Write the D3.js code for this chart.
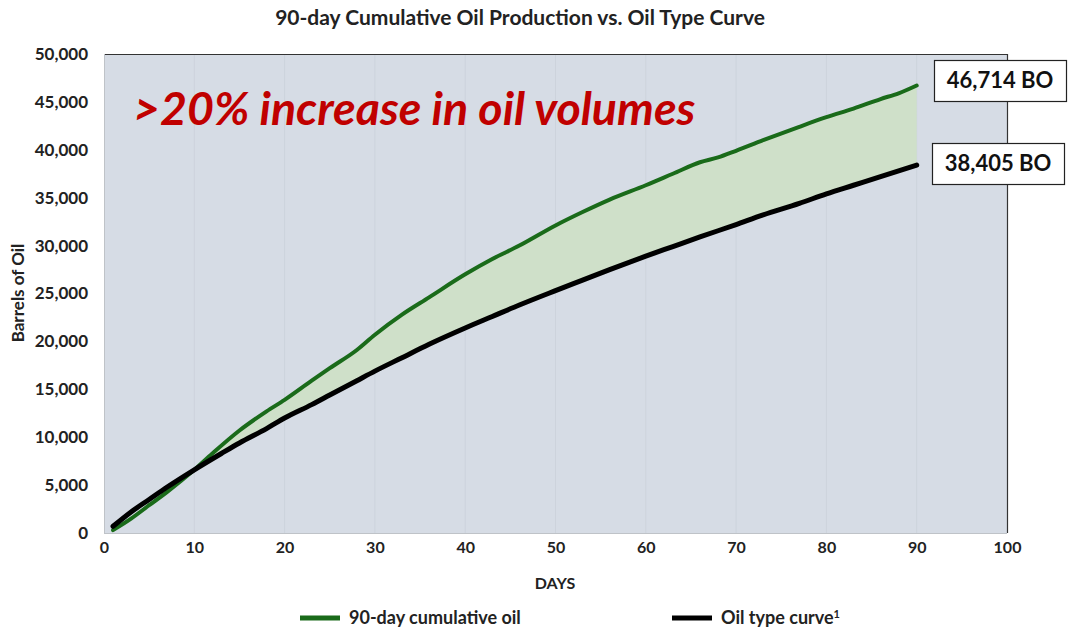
<!DOCTYPE html>
<html><head><meta charset="utf-8">
<script src="https://cdn.jsdelivr.net/npm/d3@7"></script>
<style>body{margin:0;background:#fff;} svg{display:block;font-family:Lato,"Open Sans",sans-serif;}</style>
</head><body>
<svg id="c" width="1069" height="634"></svg>
<script>
const greenDays = [1,3,5,7,10,12,15,18,20,23,25,28,30,33,36,40,43,46,50,53,56,60,63,66,68,70,73,77,80,83,86,88,90];
const greenVals = [300,1500,2900,4300,6600,8300,10700,12700,13900,15900,17200,19100,20700,22800,24600,27000,28600,30000,32100,33500,34800,36300,37500,38700,39200,39900,41000,42400,43400,44300,45300,45900,46714];
const typeDays = [1,3,5,7,10,13,15,18,20,23,25,28,30,33,36,40,43,46,50,53,56,60,63,66,70,73,77,80,83,86,90];
const typeVals = [700,2200,3500,4800,6600,8300,9400,10900,12000,13400,14400,15900,16900,18300,19700,21400,22600,23800,25300,26400,27500,28900,29900,30900,32200,33200,34400,35400,36300,37200,38405];
const xTicks = [0,10,20,30,40,50,60,70,80,90,100];
const yTicks = [0,5000,10000,15000,20000,25000,30000,35000,40000,45000,50000];
const labels = ["46,714 BO","38,405 BO"];

const svg = d3.select("#c");
const L=104,R=1007,T=54,B=533;
const x = d3.scaleLinear().domain([0,100]).range([L,R]);
const y = d3.scaleLinear().domain([0,50000]).range([B,T]);

svg.append("rect").attr("x",L).attr("y",T).attr("width",R-L).attr("height",B-T).attr("fill","#d6dce5");
svg.append("g").selectAll("line").data(xTicks.slice(1,-1)).join("line")
  .attr("x1",d=>x(d)).attr("x2",d=>x(d)).attr("y1",T).attr("y2",B)
  .attr("stroke","#cdd3dc").attr("stroke-width",1);
svg.append("line").attr("x1",L).attr("x2",R).attr("y1",T+0.5).attr("y2",T+0.5).attr("stroke","#333").attr("stroke-width",1.2);
svg.append("line").attr("x1",R+0.5).attr("x2",R+0.5).attr("y1",T).attr("y2",B).attr("stroke","#333").attr("stroke-width",1.2);
svg.append("line").attr("x1",L+0.5).attr("x2",L+0.5).attr("y1",T).attr("y2",B).attr("stroke","#bfc3c8");
svg.append("line").attr("x1",L).attr("x2",R).attr("y1",B+0.5).attr("y2",B+0.5).attr("stroke","#bfc3c8");

const green = greenDays.map((d,i)=>({d,v:greenVals[i]}));
const black = typeDays.map((d,i)=>({d,v:typeVals[i]}));
const gi = d3.scaleLinear().domain(greenDays).range(greenVals);
const bi = d3.scaleLinear().domain(typeDays).range(typeVals);
const fillDays = d3.range(10,90.01,0.5);
svg.append("path").datum(fillDays)
  .attr("d", d3.area().x(d=>x(d)).y0(d=>y(bi(d))).y1(d=>y(Math.max(gi(d),bi(d)))))
  .attr("fill","#cfe0c9");

const line = d3.line().x(p=>x(p.d)).y(p=>y(p.v)).curve(d3.curveMonotoneX);
svg.append("path").datum(green).attr("d",line).attr("fill","none").attr("stroke","#1a6b1a").attr("stroke-width",4).attr("stroke-linecap","round");
svg.append("path").datum(black).attr("d",line).attr("fill","none").attr("stroke","#000").attr("stroke-width",5).attr("stroke-linecap","round");

const ya = d3.axisLeft(y).tickValues(yTicks).tickFormat(d3.format(",")).tickSize(0).tickPadding(16);
const yg = svg.append("g").attr("transform",`translate(${L},0)`).call(ya);
yg.select(".domain").remove();
yg.selectAll("text").attr("font-size",17).attr("font-weight","bold").attr("fill","#222").attr("font-family","Lato");
const xa = d3.axisBottom(x).tickValues(xTicks).tickSize(0).tickPadding(9);
const xg = svg.append("g").attr("transform",`translate(0,${B})`).call(xa);
xg.select(".domain").remove();
xg.selectAll("text").attr("font-size",16).attr("font-weight","bold").attr("fill","#222").attr("font-family","Lato");

svg.append("text").attr("x",555).attr("y",589).attr("text-anchor","middle").attr("font-size",16).attr("font-weight","bold").attr("fill","#222").text("DAYS");
svg.append("text").attr("transform","translate(24,293) rotate(-90)").attr("text-anchor","middle").attr("font-size",17).attr("font-weight","bold").attr("fill","#222").text("Barrels of Oil");
svg.append("text").attr("x",520).attr("y",25).attr("text-anchor","middle").attr("font-size",21).attr("font-weight","bold").attr("fill","#222").text("90-day Cumulative Oil Production vs. Oil Type Curve");

svg.append("text").attr("x",133).attr("y",125).attr("font-size",46.5).attr("font-weight","bold").attr("font-style","italic").attr("fill","#c00000").text(">20% increase in oil volumes");

const boxes = [{t:labels[0], x0:934, y0:60},{t:labels[1], x0:932, y0:143}];
boxes.forEach(b=>{
  svg.append("rect").attr("x",b.x0+0.5).attr("y",b.y0+0.5).attr("width",132).attr("height",41).attr("fill","#fff").attr("stroke","#222").attr("stroke-width",1.2);
  svg.append("text").attr("x",b.x0+66).attr("y",b.y0+28).attr("text-anchor","middle").attr("font-size",22).attr("font-weight","bold").attr("fill","#111").text(b.t);
});

const leg = [{c:"#1a6b1a",t:"90-day cumulative oil",x0:300},{c:"#000",t:"Oil type curve",x0:672}];
leg.forEach((l,i)=>{
  svg.append("line").attr("x1",l.x0).attr("x2",l.x0+40).attr("y1",618).attr("y2",618).attr("stroke",l.c).attr("stroke-width",5);
  const t = svg.append("text").attr("x",l.x0+49).attr("y",624).attr("font-size",18).attr("font-weight","bold").attr("fill","#222").text(l.t);
  if(i===1) t.append("tspan").attr("font-size",11).attr("dy",-6).text("1");
});
</script>
</body></html>
